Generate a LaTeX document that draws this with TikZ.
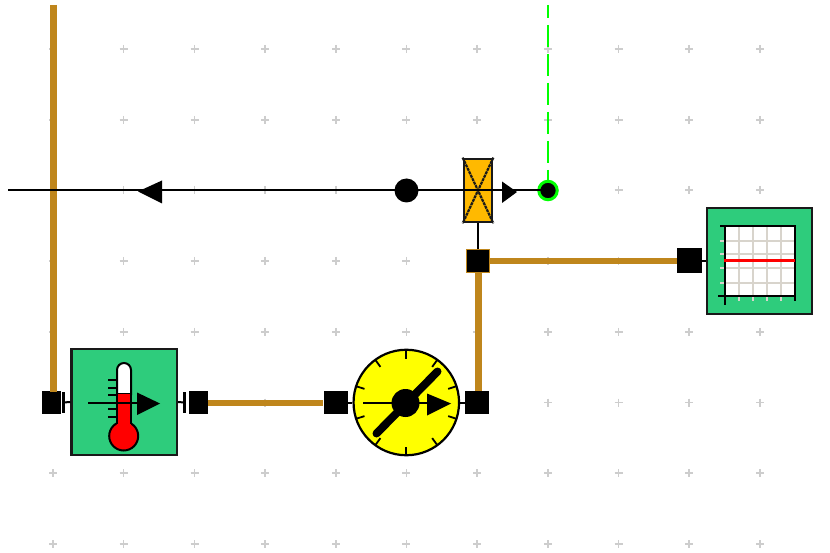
\documentclass[tikz,border=0pt]{standalone}
\definecolor{brownpipe}{RGB}{191,134,28}
\definecolor{boxgreen}{RGB}{46,204,124}
\definecolor{valveorange}{RGB}{255,185,0}
\definecolor{gridgray}{RGB}{205,205,205}
\definecolor{scopegrid}{RGB}{216,212,204}
\definecolor{linkgreen}{RGB}{0,255,0}
\definecolor{dialyellow}{RGB}{255,255,0}
\definecolor{mercury}{RGB}{255,0,0}
\tikzset{
  x=1pt,y=-1pt,
  port/.style={draw=none,fill=black,inner sep=0pt,minimum width=#1,minimum height=23pt},
  port/.default=23pt,
  pipe/.style={draw=brownpipe,line width=6pt},
  signal/.style={draw=black,line width=2pt},
  block/.style={draw=black!90,line width=2.2pt,fill=boxgreen,inner sep=0pt,minimum width=105.5pt,minimum height=105.5pt},
  tri/.style={fill=black,draw=none},
  dot/.style={circle,fill=black,draw=none,inner sep=0pt,minimum size=#1},
}
\begin{document}
\begin{tikzpicture}
\useasboundingbox (0,0) rectangle (830,553);
\fill[white] (0,0) rectangle (830,553);
% background grid
\foreach \gx in {53,123.6,194.5,265,336,406.3,477,548,618.5,689,760}
  \foreach \gy in {49,120,190,261,332,402.5,473,544}
    \draw[gridgray,line width=1.5pt] (\gx-4,\gy)--(\gx+4,\gy) (\gx,\gy-4)--(\gx,\gy+4);
% nodes
\node[port=19pt] (pA) at (51,402.5) {};
\node[block] (thermo) at (124.3,402) {};
\node[port=19pt] (pB) at (198,402.5) {};
\node[port=24pt] (pC) at (335.5,402.5) {};
\node[circle,draw=black,line width=2.2pt,fill=dialyellow,inner sep=0pt,minimum size=105.5pt] (gauge) at (406.3,402.5) {};
\node[port=24pt] (pD) at (477,402.5) {};
\node[port,draw=brownpipe,line width=.8pt] (pE) at (478,261) {};
\node[port=25pt,minimum height=25pt] (pF) at (689.5,261) {};
\node[block] (scope) at (759.5,261) {};
\node[draw=black!90,line width=2.2pt,fill=valveorange,inner sep=0pt,minimum width=28.5pt,minimum height=63.5pt] (valve) at (478,190.5) {};
\node[dot=24pt] (junc) at (406.5,190.5) {};
\node[circle,draw=linkgreen,line width=3pt,fill=black,inner sep=0pt,minimum size=18.5pt] (probe) at (548,190.5) {};
\coordinate (topA) at (53,5);
\coordinate (topG) at (548,5);
\coordinate (lineL) at (8,190.5);
% pipes
\draw[pipe,line width=7pt] (topA) -- (53,392);
\draw[pipe] (pB) -- (pC);
\draw[pipe,line width=7pt] (pD.north -| pE) -- (pE);
\draw[pipe] (pE) -- (pF);
% signal stubs
\draw[signal] (pF) -- (scope);
\draw[signal] (pE) -- (valve);
\draw[signal] (pC) -- (gauge);
\draw[signal] (gauge) -- (pD);
\draw[signal] (63,402.5) -- (thermo.west);
\draw[signal] (thermo.east) -- (184,402.5);
\draw[black,line width=3pt] (63,392) -- (63,413) (184,392) -- (184,413);
% main line
\draw[signal] (lineL) -- (probe.center);
\draw[linkgreen,line width=2.2pt,dash pattern=on 22pt off 7pt,dash phase=9pt] (topG) -- (probe);
\fill[tri] (138,191.5) -- (162,180.5) -- (162,203.5) -- cycle;
\fill[tri] (517,192) -- (502,181.5) -- (502,203) -- cycle;
% valve cross
\draw[black!90,line width=2.2pt,dash pattern=on 3pt off .8pt] (valve.north west) -- (valve.south east) (valve.north east) -- (valve.south west);
\draw[signal] (valve.west) -- (valve.east);
% thermometer
\draw[black,line width=2pt,fill=white] (117,394) -- (117,370) arc[start angle=180,end angle=360,radius=7] -- (131,394) -- cycle;
\draw[black,line width=2pt,fill=mercury] (123.7,436) circle[radius=14.5];
\fill[mercury] (117,394) rectangle (131,430);
\draw[black,line width=2pt] (117,394) -- (117,424) (131,394) -- (131,424);
\draw[black,line width=1.8pt] (108,380) -- (117,380) (108,388) -- (117,388) (108,395) -- (117,395) (108,409) -- (117,409) (108,417) -- (117,417);
\draw[signal] (88,402.5) -- (150,402.5);
\fill[tri] (160,403.5) -- (137,392.5) -- (137,415) -- cycle;
% gauge
\foreach \a in {18,54,90,126,162,198,234,270,306,342}
  \draw[black,line width=1.8pt] (gauge.center) ++(\a:-53) -- ++(\a:9);
\draw[black,line width=8pt,line cap=round] (376.5,433.5) -- (437.5,371.5);
\draw[signal] (363,402.5) -- (440,402.5);
\node[dot=28pt] (hub) at (405.5,403) {};
\fill[tri] (451,403.5) -- (427,393.5) -- (427,415.5) -- cycle;
% scope
\fill[white] (725,227) rectangle (795,296);
\draw[scopegrid,line width=2.2pt]
  (739,227)--(739,301) (753,227)--(753,301) (767,227)--(767,301) (781,227)--(781,301)
  (720,241)--(795,241) (720,254)--(795,254) (720,268)--(795,268) (720,283)--(795,283);
\draw[black,line width=2pt] (720,226)--(795,226)--(795,301) (718,296)--(795,296) (725,226)--(725,305);
\draw[mercury,line width=2.2pt] (724,260.5)--(795,260.5);
\end{tikzpicture}
\end{document}
